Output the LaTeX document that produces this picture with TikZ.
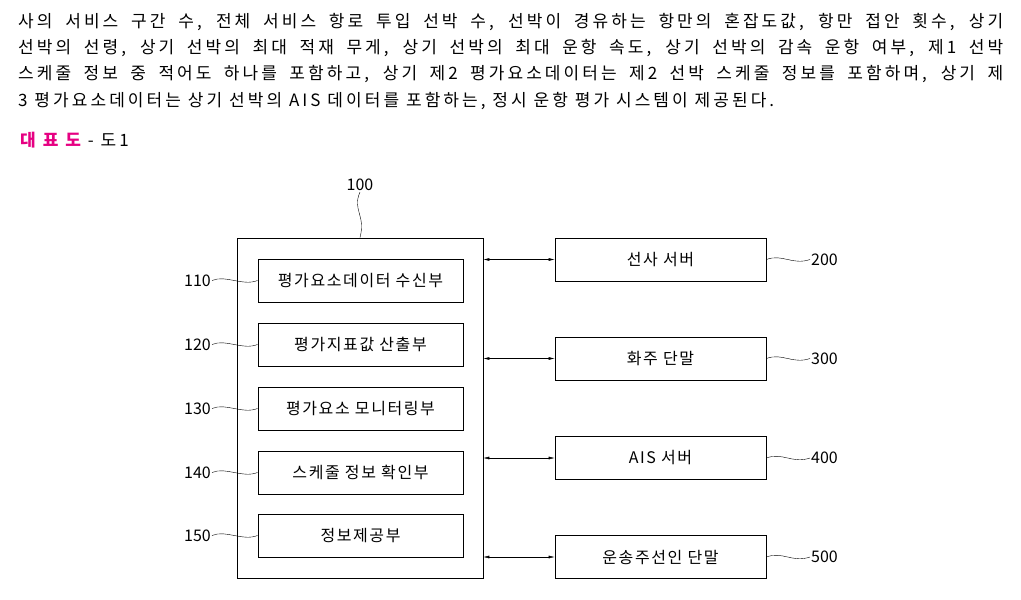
\documentclass[tikz,border=0pt]{standalone}
\usepackage{fontspec}
\setmainfont{Noto Sans CJK KR}
\usetikzlibrary{arrows.meta}
\begin{document}
\begin{tikzpicture}[x=1pt,y=-1pt,
  box/.style={draw,thick,minimum height=43pt,inner sep=0pt,font=\fontsize{16}{16}\selectfont\addfontfeature{LetterSpace=10}},
  ib/.style={box,minimum width=205pt},
  rb/.style={box,minimum width=211pt},
  lbl/.style={font=\fontsize{16}{16}\selectfont,inner sep=1pt},
  conn/.style={{Latex[length=6pt,width=3pt]}-{Latex[length=6pt,width=3pt]}},
  txt/.style={anchor=west,inner sep=0pt,font=\fontsize{17}{18}\selectfont\addfontfeature{LetterSpace=18}}]
\useasboundingbox (0,0) rectangle (1021,600);
\node[txt] (t1) at (18,22) {\hbox to 985pt{사의 서비스 구간 수, 전체 서비스 항로 투입 선박 수, 선박이 경유하는 항만의 혼잡도값, 항만 접안 횟수, 상기}};
\node[txt] (t2) at (18,48) {\hbox to 985pt{선박의 선령, 상기 선박의 최대 적재 무게, 상기 선박의 최대 운항 속도, 상기 선박의 감속 운항 여부, 제1 선박}};
\node[txt] (t3) at (18,74) {\hbox to 985pt{스케줄 정보 중 적어도 하나를 포함하고, 상기 제2 평가요소데이터는 제2 선박 스케줄 정보를 포함하며, 상기 제}};
\node[txt] (t4) at (18,101) {3 평가요소데이터는 상기 선박의 AIS 데이터를 포함하는, 정시 운항 평가 시스템이 제공된다.};
\node[txt] (t5) at (20,140) {\textcolor[RGB]{230,0,130}{\bfseries\itshape 대 표 도} - 도1};

\node[draw,thick,minimum width=246pt,minimum height=340pt,inner sep=0pt] (m) at (360,408) {};
\node[ib] (b110) at (360.5,280.5) {평가요소데이터 수신부};
\node[ib] (b120) at (360.5,344.5) {평가지표값 산출부};
\node[ib] (b130) at (360.5,408.5) {평가요소 모니터링부};
\node[ib] (b140) at (360.5,472.5) {스케줄 정보 확인부};
\node[ib] (b150) at (360.5,535.5) {정보제공부};
\node[rb] (b200) at (660.5,259.5) {선사 서버};
\node[rb] (b300) at (660.5,358.5) {화주 단말};
\node[rb] (b400) at (660.5,458) {AIS 서버};
\node[rb] (b500) at (660.5,557) {운송주선인 단말};

\foreach \n in {200,300,400,500} \draw[conn] (m.east |- b\n.west) -- (b\n.west);

\foreach \n in {110,120,130,140,150}{
  \node[lbl,anchor=east] (l\n) at (212,0 |- b\n.west) {\n};
  \draw (l\n.east) .. controls ([shift={(14,-6)}]l\n.east) and ([shift={(30,6)}]b\n.west -| l\n.east) .. (b\n.west);
}
\foreach \n in {200,300,400,500}{
  \node[lbl,anchor=west] (l\n) at (810,0 |- b\n.east) {\n};
  \draw (b\n.east) .. controls ([shift={(16,-6)}]b\n.east) and ([shift={(26,6)}]b\n.east) .. (l\n.west);
}
\node[lbl] (l100) at (360,185) {100};
\draw (l100.south) .. controls (352,210) and (366,215) .. (m.north);
\end{tikzpicture}
\end{document}
